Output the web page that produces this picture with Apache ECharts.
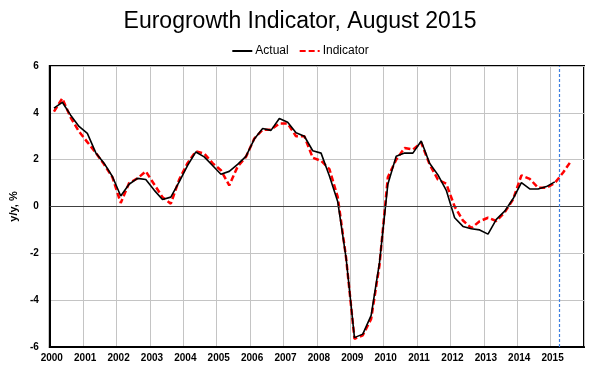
<!DOCTYPE html>
<html>
<head>
<meta charset="utf-8">
<script src="https://cdn.jsdelivr.net/npm/echarts@6/dist/echarts.min.js"></script>
<style>
html,body{margin:0;padding:0;background:#fff;}
#chart{width:600px;height:370px;}
</style>
</head>
<body>
<div id="chart"></div>
<script>
// Quarterly data, first quarter = 2000 Q1
const startYear = 2000;
const actual = [
  4.2, 4.45, 3.9, 3.42, 3.12, 2.3, 1.85, 1.28,
  0.45, 0.95, 1.2, 1.15, 0.7, 0.3, 0.4, 1.05,
  1.75, 2.33, 2.12, 1.75, 1.38, 1.5, 1.8, 2.14,
  2.88, 3.33, 3.25, 3.76, 3.6, 3.15, 3.0, 2.38,
  2.28, 1.3, 0.2, -2.2, -5.6, -5.45, -4.65, -2.4,
  0.95, 2.15, 2.28, 2.28, 2.8, 1.85, 1.35, 0.69,
  -0.48, -0.85, -0.95, -1.0, -1.18, -0.55, -0.2, 0.33,
  1.02, 0.75, 0.75, 0.85, 1.05
];
const indicator = [
  4.05, 4.62, 3.8, 3.2, 2.75, 2.3, 1.8, 1.25,
  0.15, 1.0, 1.2, 1.5, 0.95, 0.4, 0.12, 1.15,
  1.85, 2.36, 2.26, 1.85, 1.55, 0.9, 1.7, 2.12,
  2.9, 3.28, 3.28, 3.54, 3.54, 3.0, 3.0, 2.08,
  1.95, 1.6, 0.4, -2.2, -5.65, -5.5, -4.8, -2.5,
  1.25, 2.0, 2.5, 2.43, 2.72, 1.8, 1.15, 0.97,
  0.0, -0.6, -0.92, -0.63, -0.48, -0.62, -0.25, 0.3,
  1.33, 1.18, 0.8, 0.8, 1.0, 1.45, 1.97
];
const yearLabels = ['2000','2001','2002','2003','2004','2005','2006','2007',
  '2008','2009','2010','2011','2012','2013','2014','2015'];
const yTicks = [-6, -4, -2, 0, 2, 4, 6];
const forecastStart = 2015.25;

function toPoints(arr) {
  return arr.map((v, i) => [startYear + (i + 0.5) / 4, v]);
}

const chart = echarts.init(document.getElementById('chart'), null, {renderer: 'canvas'});
const font = '"Liberation Sans", Arial, sans-serif';
const blue = '#3d7fe0';
chart.setOption({
  animation: false,
  backgroundColor: '#fff',
  title: {
    text: 'Eurogrowth Indicator, August 2015',
    left: 'center',
    top: 5,
    textStyle: {fontFamily: font, fontSize: 23, fontWeight: 'normal', color: '#000'}
  },
  legend: {
    top: 40,
    left: 'center',
    itemWidth: 20,
    itemHeight: 10,
    itemGap: 10,
    itemStyle: {opacity: 0},
    textStyle: {fontFamily: font, fontSize: 12, color: '#000', padding: [0, 0, 0, -2]},
    data: ['Actual', 'Indicator']
  },
  grid: {
    left: 44, right: 16, top: 66, bottom: 23,
    show: true, borderColor: '#000', borderWidth: 2
  },
  xAxis: {
    type: 'value',
    min: 2000, max: 2016, interval: 1,
    axisLine: {show: true, onZero: false, lineStyle: {color: '#000', width: 2}},
    axisTick: {show: false},
    splitLine: {show: true, lineStyle: {color: '#c4c4c4', width: 1}},
    axisLabel: {
      fontFamily: font, fontSize: 10, fontWeight: 'bold', color: '#000', margin: 6,
      padding: [0, 0, 0, 4],
      formatter: v => yearLabels[Math.round(v) - startYear] || ''
    }
  },
  yAxis: {
    type: 'value',
    min: yTicks[0], max: yTicks[yTicks.length - 1], interval: 2,
    name: 'y/y, %',
    nameLocation: 'middle',
    nameGap: 29,
    nameTextStyle: {fontFamily: font, fontSize: 11, fontWeight: 'bold', color: '#000'},
    axisLine: {show: true, lineStyle: {color: '#000', width: 2}},
    axisTick: {show: false},
    splitLine: {show: true, lineStyle: {color: '#c4c4c4', width: 1}},
    axisLabel: {fontFamily: font, fontSize: 10, fontWeight: 'bold', color: '#000', margin: 11}
  },
  series: [
    {
      name: 'Actual',
      type: 'line',
      data: toPoints(actual),
      showSymbol: false,
      symbol: 'none',
      z: 4,
      color: '#000',
      lineStyle: {color: '#000', width: 1.6},
      markLine: {
        silent: true,
        symbol: 'none',
        label: {show: false},
        lineStyle: {color: '#404040', width: 1, type: 'solid'},
        data: [{yAxis: 0}]
      }
    },
    {
      name: 'Indicator',
      type: 'line',
      data: toPoints(indicator),
      showSymbol: false,
      symbol: 'none',
      z: 3,
      color: '#ff0000',
      lineStyle: {color: '#ff0000', width: 2.5, type: [6, 3]},
      markLine: {
        silent: true,
        symbol: 'none',
        label: {show: false},
        lineStyle: {color: blue, width: 1.2, type: [3, 2], opacity: 1},
        data: [{xAxis: forecastStart, lineStyle: {color: blue, width: 1.2, type: [3, 2]}}]
      }
    }
  ]
});
</script>
</body>
</html>
